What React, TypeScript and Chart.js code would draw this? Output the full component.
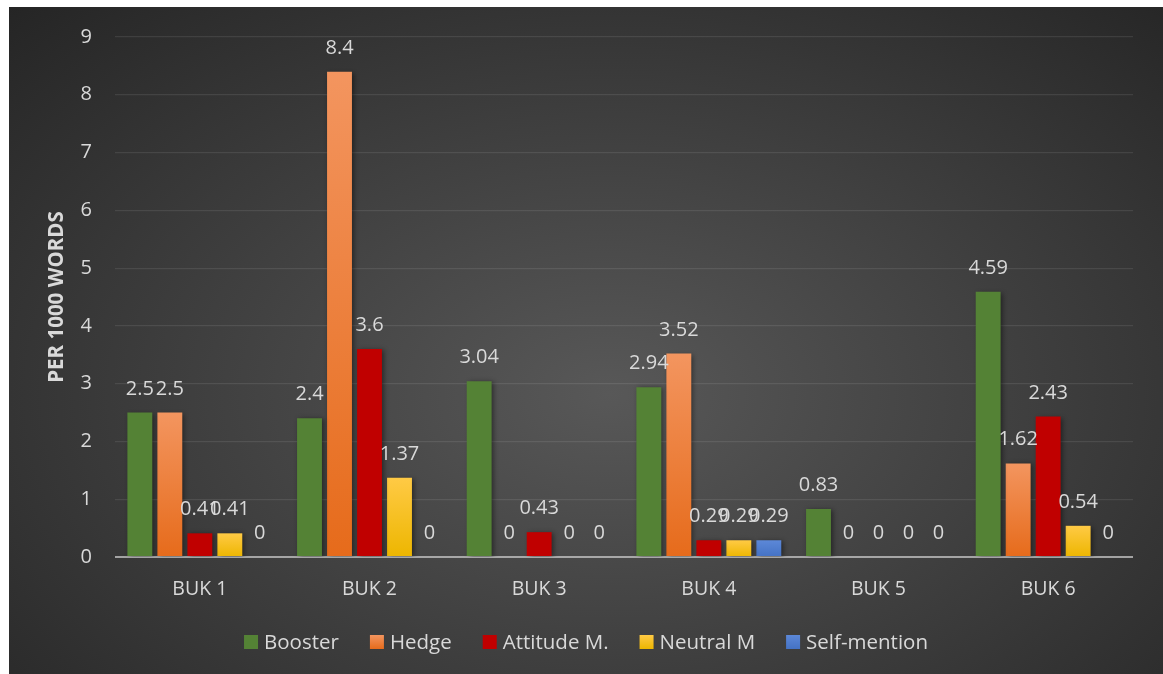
import React, { useEffect, useRef } from "react";
import { Chart, registerables } from "chart.js";

Chart.register(...registerables);

// Category and series data
const categories = ["BUK 1", "BUK 2", "BUK 3", "BUK 4", "BUK 5", "BUK 6"];
const seriesNames = ["Booster", "Hedge", "Attitude M.", "Neutral M", "Self-mention"];
const booster = [2.5, 2.4, 3.04, 2.94, 0.83, 4.59];
const hedge = [2.5, 8.4, 0, 3.52, 0, 1.62];
const attitude = [0.41, 3.6, 0.43, 0.29, 0, 2.43];
const neutral = [0.41, 1.37, 0, 0.29, 0, 0.54];
const selfMention = [0, 0, 0, 0.29, 0, 0];
const yTicks = [0, 1, 2, 3, 4, 5, 6, 7, 8, 9];
const yTitle = "PER 1000 WORDS";

const TEXT = "#d9d9d9";
const FONT = "'Open Sans', 'Noto Sans', sans-serif";

// [top colour, bottom colour] for each series; equal stops mean a flat fill
const fills: [string, string][] = [
  ["#548235", "#548235"],
  ["#F3955F", "#E66B1B"],
  ["#C00000", "#C00000"],
  ["#FFCA45", "#EDB600"],
  ["#5C88D8", "#4472C4"],
];

function barFill(idx: number) {
  return (c: any) => {
    const [top, bottom] = fills[idx];
    if (top === bottom) return top;
    const chart = c.chart;
    const y = chart.scales?.y;
    if (!chart.chartArea || !y || c.type !== "data") return top;
    const v = Number(c.raw) || 0;
    const y0 = y.getPixelForValue(0);
    const y1 = y.getPixelForValue(v);
    if (Math.abs(y0 - y1) < 1) return top;
    const g = chart.ctx.createLinearGradient(0, y1, 0, y0);
    g.addColorStop(0, top);
    g.addColorStop(1, bottom);
    return g;
  };
}

// Soft drop shadow behind the bars
const barShadow = {
  id: "barShadow",
  beforeDatasetsDraw(chart: any) {
    const ctx = chart.ctx;
    ctx.save();
    ctx.shadowColor = "rgba(0,0,0,0.45)";
    ctx.shadowBlur = 5;
    ctx.shadowOffsetX = 2;
    ctx.shadowOffsetY = 1;
  },
  afterDatasetsDraw(chart: any) {
    chart.ctx.restore();
  },
};

// Value labels above each bar
const valueLabels = {
  id: "valueLabels",
  afterDatasetsDraw(chart: any) {
    const ctx = chart.ctx;
    ctx.save();
    ctx.shadowColor = "transparent";
    ctx.font = `20px ${FONT}`;
    ctx.fillStyle = TEXT;
    ctx.textAlign = "center";
    ctx.textBaseline = "alphabetic";
    chart.data.datasets.forEach((ds: any, di: number) => {
      const meta = chart.getDatasetMeta(di);
      meta.data.forEach((el: any, i: number) => {
        const v = ds.data[i];
        ctx.fillText(String(v), el.x, el.y - 18);
      });
    });
    ctx.restore();
  },
};

// Legend row below the axis, centred in the canvas
const bottomLegend = {
  id: "bottomLegend",
  afterDraw(chart: any) {
    const ctx = chart.ctx;
    ctx.save();
    ctx.font = `20.5px ${FONT}`;
    const box = 14;
    const gapText = 6;
    const gapItem = 31;
    const items = chart.data.datasets.map((ds: any, i: number) => ({
      label: ds.label,
      color: fills[i],
      w: ctx.measureText(ds.label).width,
    }));
    const total =
      items.reduce((s: number, it: any) => s + box + gapText + it.w, 0) +
      gapItem * (items.length - 1);
    let x = chart.width / 2 - total / 2;
    const baseline = 642;
    items.forEach((it: any) => {
      const g = ctx.createLinearGradient(0, baseline - box, 0, baseline);
      g.addColorStop(0, it.color[0]);
      g.addColorStop(1, it.color[1]);
      ctx.fillStyle = g;
      ctx.fillRect(x, baseline - box, box, box);
      x += box + gapText;
      ctx.fillStyle = TEXT;
      ctx.textBaseline = "alphabetic";
      ctx.textAlign = "left";
      ctx.fillText(it.label, x, baseline);
      x += it.w + gapItem;
    });
    ctx.restore();
  },
};

export default function App() {
  const ref = useRef<HTMLCanvasElement | null>(null);

  useEffect(() => {
    if (!ref.current) return;
    const seriesValues = [booster, hedge, attitude, neutral, selfMention];
    const chart = new Chart(ref.current, {
      type: "bar",
      data: {
        labels: categories,
        datasets: seriesValues.map((vals, i) => ({
          label: seriesNames[i],
          data: vals,
          backgroundColor: barFill(i),
          borderWidth: 0,
          categoryPercentage: 0.884,
          barPercentage: 0.83,
        })),
      },
      options: {
        animation: false,
        responsive: true,
        maintainAspectRatio: false,
        layout: { padding: { left: 0, right: 30, top: 30, bottom: 0 } },
        plugins: {
          legend: { display: false },
          tooltip: { enabled: false },
        },
        scales: {
          x: {
            grid: { display: false },
            border: { display: false },
            ticks: {
              color: TEXT,
              font: { family: FONT, size: 19.5 },
              padding: 13,
            },
            afterFit(scale: any) {
              scale.height = 117;
            },
          },
          y: {
            min: 0,
            max: 9,
            afterBuildTicks(scale: any) {
              scale.ticks = yTicks.map((v) => ({ value: v }));
            },
            grid: {
              drawTicks: false,
              color: (c: any) =>
                c.tick && c.tick.value === 0 ? "rgba(200,200,200,0.75)" : "rgba(255,255,255,0.09)",
              lineWidth: (c: any) => (c.tick && c.tick.value === 0 ? 2 : 1.2),
            },
            border: { display: false },
            ticks: {
              color: TEXT,
              font: { family: FONT, size: 20 },
              padding: 23,
            },
            title: {
              display: true,
              text: yTitle,
              color: TEXT,
              font: { family: FONT, size: 20.5, weight: "bold" },
              padding: { top: 36, bottom: 0 },
            },
            afterFit(scale: any) {
              scale.width = 106;
              scale.paddingTop = 0;
              scale.paddingBottom = 0;
            },
          },
        },
      },
      plugins: [barShadow, valueLabels, bottomLegend],
    });
    return () => chart.destroy();
  }, []);

  return (
    <div
      style={{
        position: "absolute",
        left: 9,
        top: 7,
        width: 1154,
        height: 667,
        background:
          "radial-gradient(ellipse farthest-corner at 52% 58%, #585858 0%, #3c3c3c 55%, #252525 100%)",
      }}
    >
      <canvas ref={ref} />
    </div>
  );
}
